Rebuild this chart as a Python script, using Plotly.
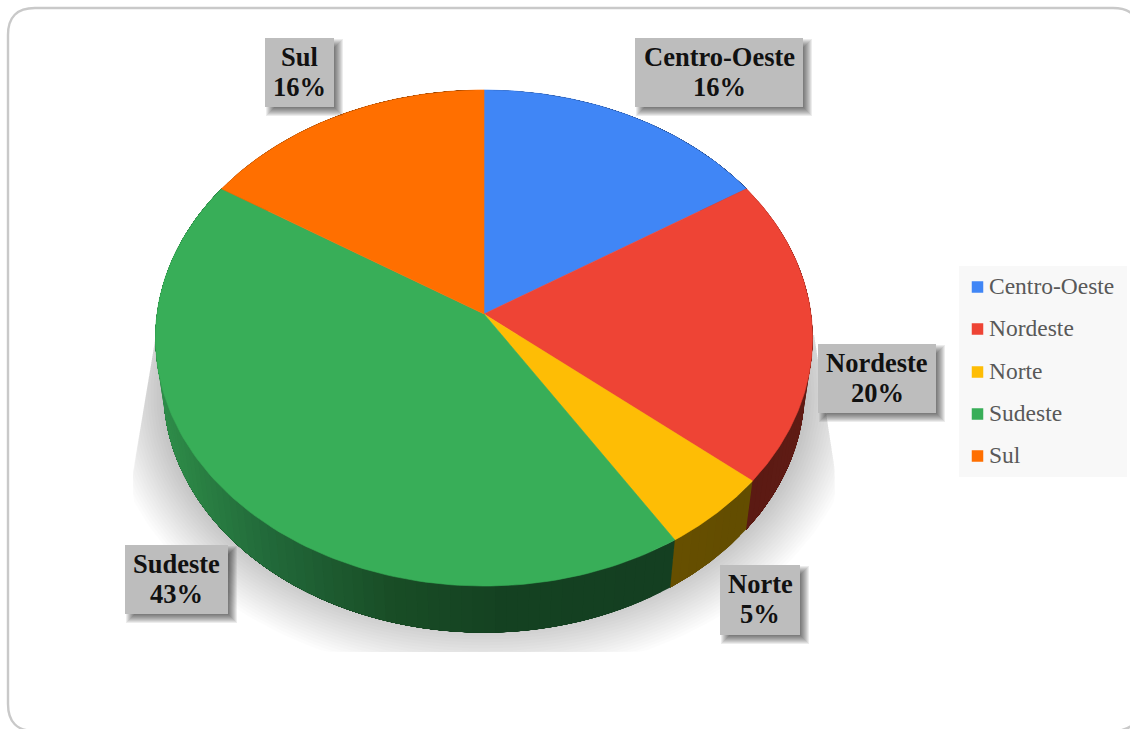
import numpy as np
import plotly.graph_objects as go

# Regional shares, in percent
regions = ["Centro-Oeste", "Nordeste", "Norte", "Sudeste", "Sul"]
shares = [16, 20, 5, 43, 16]

face_colors = ["#4086f6", "#ee4435", "#febd05", "#38ae58", "#ff6f00"]
# Wall shading per region, as (screen x, colour) stops
wall_stops = [
    [(0, "#17315f"), (1130, "#17315f")],
    [(740, "#5a1a13"), (810, "#601c15")],
    [(670, "#675000"), (745, "#634d00")],
    [(160, "#2f8d4a"), (200, "#2a8043"), (267, "#22693a"), (393, "#194d26"), (500, "#154222"), (672, "#143f21")],
    [(0, "#663000"), (1130, "#663000")],
]

W, H = 1130, 729

# Perspective disc: apex on screen plus the projection constants
APEX_X, APEX_Y = 484.0, 314.0
DISC_A, DISC_B, DISC_K = 327.0, 245.7, 0.0968
# Lower rim of the disc relative to the upper one
RIM_SX, RIM_SY, RIM_Y = 0.976, 0.98, 366.0


def project(theta):
    """Screen position of a rim point; theta runs clockwise from twelve o'clock."""
    u, v = np.sin(theta), np.cos(theta)
    d = 1 + DISC_K * v
    return APEX_X + DISC_A * u / d, APEX_Y - DISC_B * v / d


def project_low(theta):
    x, y = project(theta)
    return APEX_X + RIM_SX * (x - APEX_X), RIM_Y + RIM_SY * (y - APEX_Y)


def hex_rgb(c):
    return np.array([int(c[i:i + 2], 16) for i in (1, 3, 5)], float)


def wall_color(stops, x):
    xs = [s[0] for s in stops]
    ch = [np.interp(x, xs, [hex_rgb(s[1])[k] for s in stops]) for k in range(3)]
    return "rgb(%d,%d,%d)" % tuple(ch)


def filled(x, y, color, line=0.6):
    return go.Scatter(
        x=list(x), y=list(y), mode="lines", fill="toself", fillcolor=color,
        line=dict(color=color, width=line), hoverinfo="skip", showlegend=False,
    )


fig = go.Figure()

# Soft ground shadow: stacked translucent ellipses cut by a flared frame
t = np.linspace(0, 2 * np.pi, 240)
LAYERS = 22
for i in range(LAYERS):
    f = i / (LAYERS - 1)
    rx = 378 - 62 * f
    ry = 283 - 62 * f
    sy = 395 + ry * np.cos(t)
    sx = 484 + rx * np.sin(t)
    sy = np.clip(sy, 335, 652)
    left = np.interp(sy, [340, 470], [155, 133])
    right = np.interp(sy, [320, 470], [812, 835])
    sx = np.clip(sx, left, right)
    fig.add_trace(filled(sx, sy, "rgba(0,0,0,0.0118)", line=0))

cum = np.cumsum([0] + shares) / sum(shares) * 2 * np.pi

# Side wall: each band runs on to the end of its slice and the next one paints
# over it, which keeps the shading free of hairline seams
for k in range(len(shares)):
    n = max(2, int(shares[k] * 2))
    edges = np.linspace(cum[k], cum[k + 1], n + 1)
    for a, b in zip(edges[:-1], edges[1:]):
        tt = np.linspace(a, cum[k + 1], 40)
        xt, yt = project(tt)
        xl, yl = project_low(tt[::-1])
        mid_x = project((a + b) / 2)[0]
        fig.add_trace(filled(np.r_[xt, xl], np.r_[yt, yl], wall_color(wall_stops[k], mid_x), line=0))

# Upper face of each slice
for k in range(len(shares)):
    tt = np.linspace(cum[k], cum[k + 1], 120)
    xt, yt = project(tt)
    fig.add_trace(filled(np.r_[APEX_X, xt, APEX_X], np.r_[APEX_Y, yt, APEX_Y], face_colors[k]))

# Legend keys
legend_y = [287, 329, 372, 414, 456]
for name, c, ly in zip(regions, face_colors, legend_y):
    fig.add_trace(go.Scatter(
        x=[977.5], y=[ly], mode="markers", name=name, showlegend=False, hoverinfo="name",
        marker=dict(symbol="square", size=11.5, color=c, line=dict(width=0)),
    ))

shapes = []
annotations = []

# Card outline with rounded corners
R = 27
L_, T_, R_, B_ = 8, 8, 1140, 731
shapes.append(dict(
    type="path", layer="below", xref="x", yref="y",
    path=f"M{L_ + R},{T_} L{R_ - R},{T_} Q{R_},{T_} {R_},{T_ + R} L{R_},{B_ - R} Q{R_},{B_} {R_ - R},{B_} "
         f"L{L_ + R},{B_} Q{L_},{B_} {L_},{B_ - R} L{L_},{T_ + R} Q{L_},{T_} {L_ + R},{T_} Z",
    line=dict(color="#c9c9c9", width=2.4), fillcolor="#ffffff",
))

# Legend panel and entries
shapes.append(dict(type="rect", layer="below", x0=959, x1=1127, y0=266, y1=477,
                   fillcolor="#f8f8f8", line=dict(width=0)))
for name, ly in zip(regions, legend_y):
    annotations.append(dict(
        x=987, y=ly - 1, text=name, showarrow=False, xanchor="left", yanchor="middle",
        font=dict(family="Liberation Serif", size=23.5, color="#595959"),
    ))

# Callout boxes: left, top, right, bottom per region
boxes = [(635, 38, 803, 107), (818, 344, 936, 413), (720, 565, 800, 635),
         (125, 545, 228, 614), (265, 38, 334, 107)]
for name, share, (x0, y0, x1, y1) in zip(regions, shares, boxes):
    for e in range(-4, 5):
        shapes.append(dict(type="rect", layer="above", x0=x0 + 5 - e, x1=x1 + 5 + e,
                           y0=y0 + 5 - e, y1=y1 + 5 + e,
                           fillcolor="rgba(0,0,0,0.075)", line=dict(width=0)))
    shapes.append(dict(type="rect", layer="above", x0=x0, x1=x1, y0=y0, y1=y1,
                       fillcolor="#bdbdbd", line=dict(width=0)))
    mx = (x0 + x1) / 2
    for text, dy in ((name, 19), (f"{share}%", 49)):
        annotations.append(dict(
            x=mx, y=y0 + dy, text=f"<b>{text}</b>", showarrow=False,
            xanchor="center", yanchor="middle",
            font=dict(family="Liberation Serif", size=26.5, color="#111111"),
        ))

fig.update_layout(
    width=W, height=H, margin=dict(l=0, r=0, t=0, b=0),
    paper_bgcolor="#ffffff", plot_bgcolor="#ffffff", showlegend=False,
    xaxis=dict(range=[0, W], visible=False, fixedrange=True),
    yaxis=dict(range=[H, 0], visible=False, fixedrange=True),
    shapes=shapes, annotations=annotations,
)

fig.write_html("out.html", config=dict(displayModeBar=False))
